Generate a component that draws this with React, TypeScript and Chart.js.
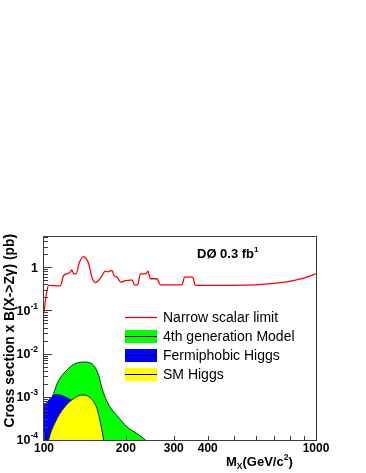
import React, { useEffect, useRef } from "react";
import { Chart, registerables } from "chart.js";

Chart.register(...registerables);

// ---- data ----
const redMass = [100, 102, 104, 114.8, 118, 121.5, 125, 126.7, 128.5, 131, 135, 139.8, 142.6, 146, 150, 154.5, 158, 163.5, 168, 172, 177.6, 181, 185.4, 191.8, 199, 208, 210.7, 215, 221, 226, 237, 241, 246, 260, 268, 321, 329, 352, 360, 500, 600, 700, 800, 900, 1000];
const redLimit = [0.09, 0.24, 0.38, 0.37, 0.64, 0.70, 0.78, 0.87, 0.70, 0.70, 1.3, 1.76, 1.6, 1.2, 0.59, 0.44, 0.48, 0.64, 0.81, 0.78, 0.84, 0.64, 0.59, 0.45, 0.49, 0.5, 0.51, 0.39, 0.39, 0.70, 0.70, 0.81, 0.54, 0.54, 0.39, 0.39, 0.59, 0.59, 0.38, 0.38, 0.39, 0.42, 0.47, 0.56, 0.70];

const greenMass = [100, 104, 108.5, 112, 119.7, 128.5, 139.8, 146, 152, 158.7, 163.5, 170.5, 177, 185.4, 202, 220, 236, 250];
const greenXsec = [5e-4, 6.5e-4, 1.2e-3, 2.1e-3, 3.8e-3, 5.6e-3, 6.4e-3, 6.2e-3, 5.4e-3, 3.2e-3, 1.56e-3, 7.7e-4, 5.2e-4, 3.7e-4, 2.0e-4, 1.4e-4, 1e-4, 7e-5];

const blueMass = [100, 111, 123, 135, 148, 158, 165];
const blueXsec = [6.4e-4, 1.13e-3, 9.1e-4, 6e-4, 3e-4, 1.2e-4, 5e-5];

const yellowMass = [102, 104, 110, 118, 128.5, 138, 148, 156.5, 161, 165.6, 168];
const yellowXsec = [5e-5, 1e-4, 2.6e-4, 5.4e-4, 9.1e-4, 1.1e-3, 9.5e-4, 5.4e-4, 2.6e-4, 1e-4, 5e-5];

const xTickLabels = [100, 200, 300, 400, 1000];
const yDecades = [1e-4, 1e-3, 1e-2, 1e-1, 1];
const yDecadeExponents = ["-4", "-3", "-2", "-1", ""];
const legendLabels = ["Narrow scalar limit", "4th generation Model", "Fermiphobic Higgs", "SM Higgs"];
const xRange = [100, 1000];
const yRange = [1e-4, 5];

const FONT = '"Liberation Sans", Arial, Helvetica, sans-serif';

const pts = (xs: number[], ys: number[]) => xs.map((x, i) => ({ x, y: ys[i] }));

const overlay = {
  id: "overlay",
  afterDraw(chart: any) {
    const ctx: CanvasRenderingContext2D = chart.ctx;
    const { left, top, right, bottom } = chart.chartArea;
    const xs = chart.scales.x;
    const ys = chart.scales.y;
    ctx.save();

    // frame
    ctx.strokeStyle = "#3c3c3c";
    ctx.lineWidth = 1;
    ctx.strokeRect(Math.round(left) - 0.5, Math.round(top) - 0.5, Math.round(right - left) + 1, Math.round(bottom - top) + 1);

    // y ticks (inside)
    ctx.beginPath();
    for (const d of yDecades) {
      for (let m = 1; m <= 9; m++) {
        const v = m * d;
        if (v > yRange[1]) break;
        const py = Math.round(ys.getPixelForValue(v)) + 0.5;
        const len = m === 1 ? 8 : 4;
        ctx.moveTo(left, py);
        ctx.lineTo(left + len, py);
      }
    }
    // x ticks (inside)
    for (let v = xRange[0]; v <= xRange[1]; v += 100) {
      const px = Math.round(xs.getPixelForValue(v)) + 0.5;
      const len = v === xRange[0] || v === xRange[1] ? 8 : 4;
      ctx.moveTo(px, bottom);
      ctx.lineTo(px, bottom - len);
    }
    ctx.stroke();

    ctx.fillStyle = "#000";
    ctx.textBaseline = "middle";

    // y tick labels
    const yLabRight = left - 6;
    yDecades.forEach((d, i) => {
      const py = ys.getPixelForValue(d);
      const sup = yDecadeExponents[i];
      if (!sup) {
        ctx.font = `bold 12.5px ${FONT}`;
        ctx.textAlign = "right";
        ctx.fillText("1", yLabRight, py + 1);
        return;
      }
      ctx.font = `bold 8.5px ${FONT}`;
      const wSup = ctx.measureText(sup).width;
      ctx.font = `bold 12.5px ${FONT}`;
      const wBase = ctx.measureText("10").width;
      ctx.textAlign = "left";
      ctx.fillText("10", yLabRight - wSup - wBase, py + 1);
      ctx.font = `bold 8.5px ${FONT}`;
      ctx.fillText(sup, yLabRight - wSup, py - 4);
    });

    // x tick labels
    ctx.font = `bold 12px ${FONT}`;
    ctx.textAlign = "center";
    xTickLabels.forEach((v) => {
      ctx.fillText(String(v), xs.getPixelForValue(v), 449);
    });

    // x axis title: M_X(GeV/c^2)
    ctx.textBaseline = "alphabetic";
    ctx.textAlign = "left";
    let tx = 226;
    const tb = 466;
    ctx.font = `bold 13px ${FONT}`;
    ctx.fillText("M", tx, tb);
    tx += ctx.measureText("M").width;
    ctx.font = `bold 8.5px ${FONT}`;
    ctx.fillText("X", tx, tb + 3);
    tx += ctx.measureText("X").width;
    ctx.font = `bold 13px ${FONT}`;
    ctx.fillText("(GeV/c", tx, tb);
    tx += ctx.measureText("(GeV/c").width;
    ctx.font = `bold 8.5px ${FONT}`;
    ctx.fillText("2", tx, tb - 6);
    tx += ctx.measureText("2").width;
    ctx.font = `bold 13px ${FONT}`;
    ctx.fillText(")", tx, tb);

    // y axis title (rotated)
    ctx.save();
    ctx.translate(14, 234);
    ctx.rotate(-Math.PI / 2);
    ctx.font = `bold 13.8px ${FONT}`;
    ctx.textAlign = "right";
    ctx.textBaseline = "alphabetic";
    ctx.fillText("Cross section x B(X->Z\u03b3) (pb)", 0, 0);
    ctx.restore();

    // experiment label: DØ 0.3 fb^1
    ctx.font = `bold 13px ${FONT}`;
    ctx.textAlign = "left";
    ctx.fillText("D\u00d8 0.3 fb", 197, 258);
    const wT = ctx.measureText("D\u00d8 0.3 fb").width;
    ctx.font = `bold 8px ${FONT}`;
    ctx.fillText("1", 197 + wT, 252);

    // legend
    const lx0 = 125, lx1 = 157, textX = 163;
    ctx.font = `14px ${FONT}`;
    ctx.textBaseline = "middle";
    // red line entry
    ctx.strokeStyle = "#ff0000";
    ctx.lineWidth = 1.3;
    ctx.beginPath();
    ctx.moveTo(lx0, 317.5);
    ctx.lineTo(lx1, 317.5);
    ctx.stroke();
    ctx.lineWidth = 1;
    ctx.fillStyle = "#000";
    ctx.fillText(legendLabels[0], textX, 318);
    const boxes = [
      { y: 330, fill: "#00ff00", line: "#000000", label: legendLabels[1] },
      { y: 349, fill: "#0000ff", line: "#000066", label: legendLabels[2] },
      { y: 368, fill: "#ffff00", line: "#000000", label: legendLabels[3] },
    ];
    boxes.forEach((b) => {
      ctx.fillStyle = b.fill;
      ctx.fillRect(lx0, b.y, lx1 - lx0, 13);
      ctx.strokeStyle = b.line;
      ctx.beginPath();
      ctx.moveTo(lx0, b.y + 6.5);
      ctx.lineTo(lx1, b.y + 6.5);
      ctx.stroke();
      ctx.fillStyle = "#000";
      ctx.fillText(b.label, textX, b.y + 7);
    });

    ctx.restore();
  },
};

export default function App() {
  const ref = useRef<HTMLCanvasElement | null>(null);
  useEffect(() => {
    if (!ref.current) return;
    const chart = new Chart(ref.current, {
      type: "line",
      data: {
        datasets: [
          {
            label: legendLabels[0],
            data: pts(redMass, redLimit),
            borderColor: "#ff0000",
            borderWidth: 1.3,
            pointRadius: 0,
            fill: false,
            cubicInterpolationMode: "monotone",
            order: 0,
          },
          {
            label: legendLabels[3],
            data: pts(yellowMass, yellowXsec),
            borderColor: "#222222",
            backgroundColor: "#ffff00",
            borderWidth: 1,
            pointRadius: 0,
            fill: "start",
            cubicInterpolationMode: "monotone",
            order: 1,
          },
          {
            label: legendLabels[2],
            data: pts(blueMass, blueXsec),
            borderColor: "#0000cc",
            backgroundColor: "#0000ff",
            borderWidth: 1,
            pointRadius: 0,
            fill: "start",
            cubicInterpolationMode: "monotone",
            order: 2,
          },
          {
            label: legendLabels[1],
            data: pts(greenMass, greenXsec),
            borderColor: "#222222",
            backgroundColor: "#00ff00",
            borderWidth: 1,
            pointRadius: 0,
            fill: "start",
            cubicInterpolationMode: "monotone",
            order: 3,
          },
        ],
      },
      options: {
        responsive: false,
        animation: false,
        events: [],
        layout: { padding: { left: 44, top: 237, right: 50, bottom: 33 } },
        scales: {
          x: { type: "logarithmic", min: xRange[0], max: xRange[1], display: false },
          y: { type: "logarithmic", min: yRange[0], max: yRange[1], display: false },
        },
        plugins: {
          legend: { display: false },
          tooltip: { enabled: false },
        },
      },
      plugins: [overlay],
    } as any);
    return () => chart.destroy();
  }, []);

  return (
    <div style={{ position: "fixed", left: 0, top: 0, width: 366, height: 473, background: "#fff" }}>
      <canvas ref={ref} width={366} height={473} style={{ display: "block", width: 366, height: 473 }} />
    </div>
  );
}
